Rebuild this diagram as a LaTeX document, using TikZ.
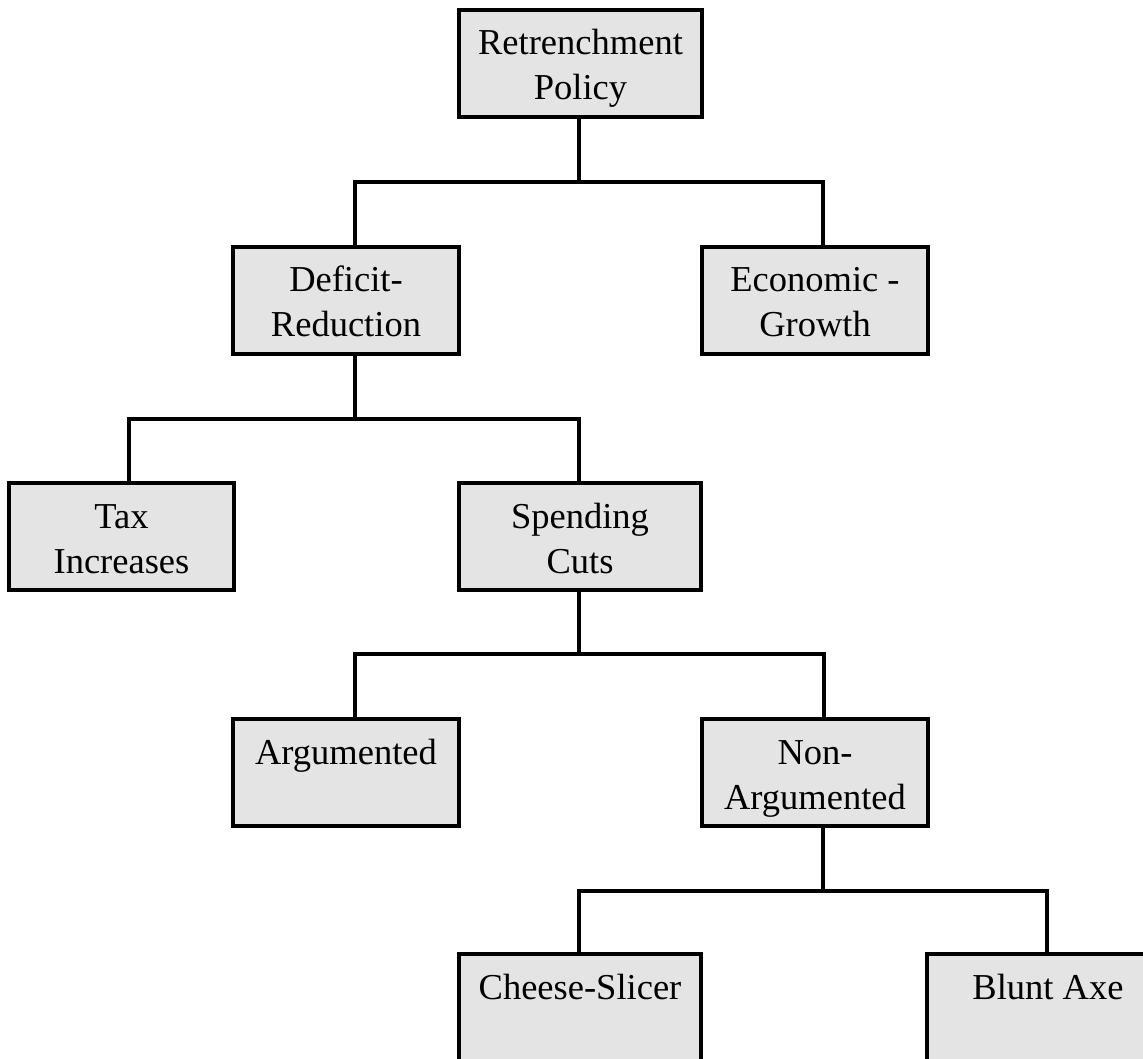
\documentclass[tikz,border=0pt]{standalone}
\usepackage{fontspec}
\setmainfont{Liberation Serif}
\definecolor{boxfill}{RGB}{228,228,228}
% box contents: fixed-height parbox, first baseline 45pt below the top edge
\newcommand{\boxtext}[2]{\parbox[c][107pt][t]{#1}{\centering\rule{0pt}{45pt}#2}}
\tikzset{
  policybox/.style={draw=black, fill=boxfill, line width=3.4pt, inner sep=0pt,
    font=\fontsize{36.5}{45}\selectfont},
  conn/.style={draw=black, line width=3.2pt, line join=miter, line cap=butt}
}
\begin{document}
\begin{tikzpicture}[x=1pt,y=-1pt]
\useasboundingbox (0,0) rectangle (1143,1059);
\clip (0,0) rectangle (1143,1059);

% boxes
\node[policybox] (root)   at (580.5,63.5)  {\boxtext{243pt}{Retrenchment\\Policy}};
\node[policybox] (deficit) at (346,300.5)  {\boxtext{226pt}{Deficit-\\Reduction}};
\node[policybox] (econ)    at (815,300.5)  {\boxtext{226pt}{Economic -\\Growth}};
\node[policybox] (tax)     at (121.5,536.5){\boxtext{225pt}{Tax\\Increases}};
\node[policybox] (spend)   at (580,536.5)  {\boxtext{242pt}{Spending\\Cuts}};
\node[policybox] (arg)     at (346,772.5)  {\boxtext{226pt}{Argumented}};
\node[policybox] (nonarg)  at (815,772.5)  {\boxtext{226pt}{Non-\\Argumented}};
\node[policybox] (cheese)  at (580,1007.5) {\boxtext{242pt}{Cheese-Slicer}};
\node[policybox] (blunt)   at (1048,1007.5){\boxtext{242pt}{Blunt Axe}};

% junction points of the tree connectors
\coordinate (j1) at (579,182);
\coordinate (j2) at (355,419);
\coordinate (j3) at (579,654);
\coordinate (j4) at (823,891);

% Retrenchment Policy
\draw[conn] ([xshift=-1.5pt]root.south) -- (j1);
\draw[conn] ([xshift=9pt]deficit.north) |- (j1);
\draw[conn] ([xshift=8pt]econ.north) |- (j1);

% Deficit-Reduction
\draw[conn] ([xshift=9pt]deficit.south) -- (j2);
\draw[conn] ([xshift=7.5pt]tax.north) |- (j2);
\draw[conn] ([xshift=-1pt]spend.north) |- (j2);

% Spending Cuts
\draw[conn] ([xshift=-1pt]spend.south) -- (j3);
\draw[conn] ([xshift=9pt]arg.north) |- (j3);
\draw[conn] ([xshift=9pt]nonarg.north) |- (j3);

% Non-Argumented
\draw[conn] ([xshift=8pt]nonarg.south) -- (j4);
\draw[conn] ([xshift=-1pt]cheese.north) |- (j4);
\draw[conn] ([xshift=-1pt]blunt.north) |- (j4);
\end{tikzpicture}
\end{document}
